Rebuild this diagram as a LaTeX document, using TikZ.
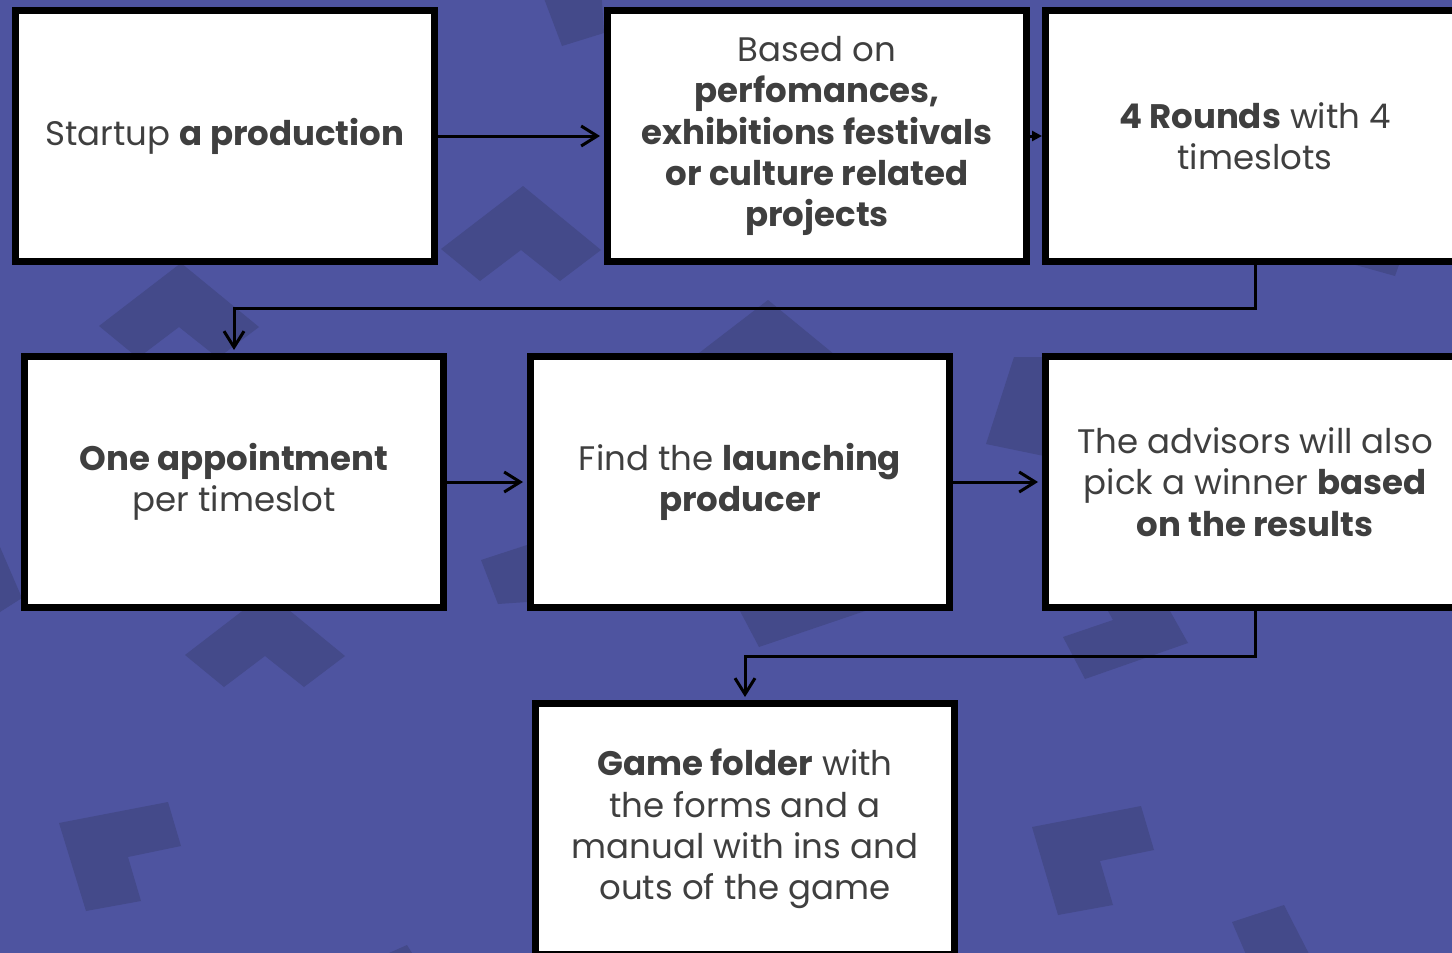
\documentclass[tikz,border=0pt]{standalone}
\usepackage{fontspec}
\setmainfont{Poppins}
\usetikzlibrary{arrows.meta}
\definecolor{bgblue}{HTML}{4E54A0}
\definecolor{shade}{HTML}{444A8A}
\definecolor{ink}{HTML}{3F3F3F}
\begin{document}
\begin{tikzpicture}[x=0.5pt,y=-0.5pt,
  stepbox/.style={draw=black, fill=white, line width=3.5pt,
    minimum width=209.5pt, minimum height=125.5pt, inner sep=0pt,
    align=center, text=ink, font=\fontsize{17}{20.6}\selectfont},
  link/.style={draw=black, line width=1.5pt,
    -{Straight Barb[length=8pt,width=10pt,line width=1.5pt]}},
  deco/.style={fill=shade}]
\useasboundingbox (0,0) rectangle (1452,953);
\begin{scope}
  \clip (0,0) rectangle (1452,953);
  \fill[bgblue] (0,0) rectangle (1452,953);
  % faint chevrons and L pieces in the backdrop
  \fill[deco] (441,249) -- (523,186) -- (601,250) -- (560,281) -- (521,250) -- (480,281) -- cycle;
  \fill[deco] (99,326) -- (181,263) -- (259,327) -- (218,358) -- (179,327) -- (138,358) -- cycle;
  \fill[deco] (185,655) -- (267,592) -- (345,656) -- (304,687) -- (265,656) -- (224,687) -- cycle;
  \fill[deco] (686,363) -- (768,300) -- (846,364) -- (805,395) -- (766,364) -- (725,395) -- cycle;
  \fill[deco] (59,823) -- (168,802) -- (181,846) -- (128,857) -- (141,901) -- (86,911) -- cycle;
  \fill[deco] (1032,827) -- (1141,806) -- (1154,850) -- (1100,861) -- (1113,905) -- (1058,915) -- cycle;
  \fill[deco] (1232,922) -- (1284,905) -- (1330,995) -- (1270,1010) -- cycle;
  \fill[deco] (537,-20) -- (600,-30) -- (604,33) -- (562,46) -- cycle;
  \fill[deco] (1345,262) -- (1400,262) -- (1395,276) -- cycle;
  \fill[deco] (-10,540) -- (0,547) -- (22,598) -- (0,612) -- cycle;
  \fill[deco] (481,560) -- (527,545) -- (527,602) -- (498,604) -- cycle;
  \fill[deco] (1014,357) -- (1044,357) -- (1044,456) -- (986,444) -- cycle;
  \fill[deco] (740,611) -- (865,611) -- (759,647) -- cycle;
  \fill[deco] (1063,637) -- (1113,620) -- (1108,611) -- (1170,611) -- (1188,643) -- (1085,679) -- cycle;
  \fill[deco] (389,953) -- (407,945) -- (412,953) -- cycle;

  % the seven steps
  \node[stepbox] (start) at (225,136) {Startup \textbf{a production}};
  \node[stepbox] (based) at (817,136) {Based on\\\textbf{perfomances,}\\\textbf{exhibitions festivals}\\\textbf{or culture related}\\\textbf{projects}};
  \node[stepbox] (rounds) at (1255,136) {\textbf{4 Rounds} with 4\\timeslots};
  \node[stepbox] (appt) at (234,482) {\textbf{One appointment}\\per timeslot};
  \node[stepbox] (find) at (740,482) {Find the \textbf{launching}\\\textbf{producer}};
  \node[stepbox] (advisors) at (1255,482) {The advisors will also\\pick a winner \textbf{based}\\\textbf{on the results}};
  \node[stepbox] (folder) at (745,829) {\textbf{Game folder} with\\the forms and a\\manual with ins and\\outs of the game};

  % connectors
  \draw[link, shorten >=2pt] (start.east) -- (based.west);
  \draw[line width=1.5pt, -{Triangle[length=5pt,width=5pt]}] (based.east) -- (rounds.west);
  \draw[link, shorten >=1.5pt] (rounds.south) -- ++(0,43) -| (appt.north);
  \draw[link, shorten >=2pt] (appt.east) -- (find.west);
  \draw[link, shorten >=2pt] (find.east) -- (advisors.west);
  \draw[link, shorten >=1.5pt] (advisors.south) -- ++(0,45) -| (folder.north);
\end{scope}
\end{tikzpicture}
\end{document}
